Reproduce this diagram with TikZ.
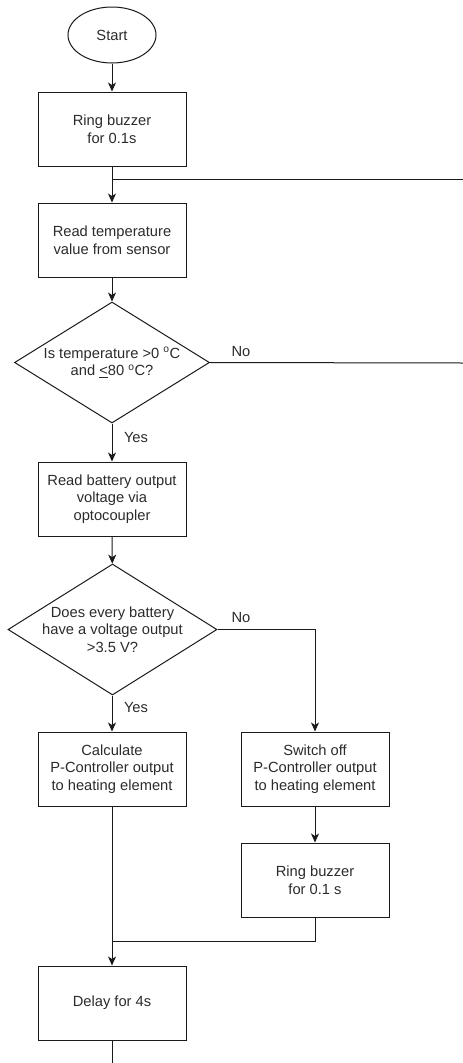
\documentclass[tikz,border=0pt]{standalone}
\usepackage{fontspec}
\setmainfont{Liberation Sans}
\usetikzlibrary{shapes.geometric,arrows.meta}
\definecolor{ink}{HTML}{2B2B2B}
\definecolor{wire}{HTML}{1A1A1A}
\begin{document}
\begin{tikzpicture}[x=1pt,y=-1pt,
  every node/.style={font=\fontsize{14.7}{17.6}\selectfont, text=ink},
  box/.style={draw=wire, line width=1pt, minimum width=148pt, minimum height=74pt,
    align=center, inner sep=0pt},
  term/.style={draw=wire, line width=1pt, ellipse, minimum width=88pt,
    minimum height=56pt, inner sep=0pt},
  decision/.style={draw=wire, line width=1pt, diamond, align=center,
    inner sep=-14pt},
  wireline/.style={draw=wire, line width=1pt},
  flow/.style={wireline, -{Stealth[length=9pt,width=8pt,inset=2.5pt]}},
  tag/.style={inner sep=0pt}]
\useasboundingbox (0,0) rectangle (463,1063);

% main column
\node[term] (start) at (112,35) {Start};
\node[box] (buzz1) at (112,129) {Ring buzzer\\for 0.1s};
\node[box] (readT) at (112,240) {Read temperature\\value from sensor};
\node[decision, minimum width=195pt, minimum height=121pt] (tempOK) at (112,362.5)
  {Is temperature >0 \textsuperscript{o}C\\and \underline{<}80 \textsuperscript{o}C?};
\node[box] (readV) at (112,499) {Read battery output\\voltage via\\optocoupler};
\node[decision, minimum width=209pt, minimum height=131pt] (voltOK) at (112.5,629.5)
  {Does every battery\\have a voltage output\\>3.5 V?};
\node[box] (calc) at (112,769) {Calculate\\P-Controller output\\to heating element};
\node[box] (delay) at (112,1003) {Delay for 4s};

% fault branch
\node[box] (switchOff) at (315,769) {Switch off\\P-Controller output\\to heating element};
\node[box] (buzz2) at (315,880) {Ring buzzer\\for 0.1 s};

% branch labels
\node[tag] (noT) at (241,352) {No};
\node[tag] (yesT) at (136,438) {Yes};
\node[tag] (noV) at (241,618) {No};
\node[tag] (yesV) at (136,708) {Yes};

% loose ends and junctions
\coordinate (loopIn) at (112,179);
\coordinate (loopEdge) at (463,179);
\coordinate (tempEdge) at (463,363);
\coordinate (join) at (112,941);
\coordinate (outEnd) at (112,1063);

% connectors
\draw[flow] (start) -- (buzz1);
\draw[flow] (buzz1) -- (readT);
\draw[wireline] (loopIn) -- (loopEdge);
\draw[flow] (readT) -- (tempOK);
\draw[wireline] (tempOK.east) -- (tempEdge);
\draw[flow] (tempOK) -- (readV);
\draw[flow] (readV) -- (voltOK);
\draw[flow] (voltOK.south -| calc) -- (calc);
\draw[flow] (voltOK.east) -| (switchOff);
\draw[flow] (switchOff) -- (buzz2);
\draw[wireline] (buzz2.south) |- (join);
\draw[flow] (calc) -- (delay);
\draw[wireline] (delay) -- (outEnd);
\end{tikzpicture}
\end{document}
